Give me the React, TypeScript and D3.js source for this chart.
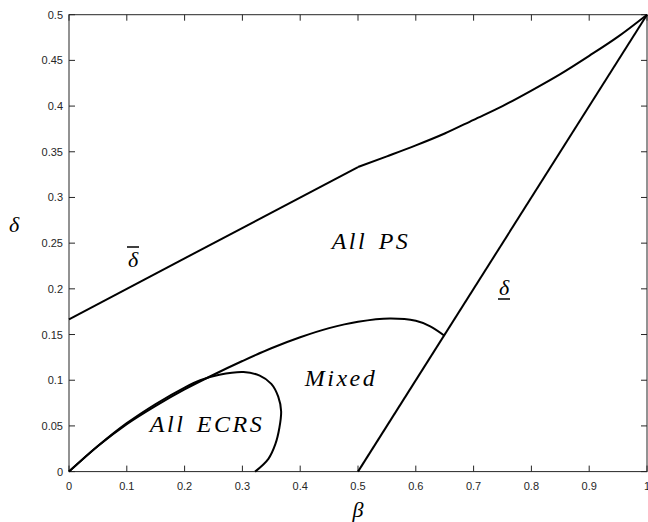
import * as d3 from 'd3';
import { useEffect, useRef } from 'react';

// tick values on both axes
const xTicks = [0, 0.1, 0.2, 0.3, 0.4, 0.5, 0.6, 0.7, 0.8, 0.9, 1];
const yTicks = [0, 0.05, 0.1, 0.15, 0.2, 0.25, 0.3, 0.35, 0.4, 0.45, 0.5];

// upper threshold (delta bar): straight piece then a bent piece
const upperLineBeta = [0, 0.5];
const upperLineDelta = [0.1667, 0.3333];
const upperCurveBeta = [0.5, 0.55, 0.6, 0.65, 0.7, 0.75, 0.8, 0.85, 0.9, 0.95, 1];
const upperCurveDelta = [0.3333, 0.345, 0.357, 0.370, 0.385, 0.400, 0.417, 0.435, 0.455, 0.476, 0.5];

// lower threshold (delta underbar)
const lowerBeta = [0.5, 1];
const lowerDelta = [0, 0.5];

// boundary of the mixed region
const mixedBeta = [0, 0.05, 0.1, 0.15, 0.2, 0.25, 0.3, 0.35, 0.4, 0.45, 0.5, 0.555, 0.6, 0.625, 0.649];
const mixedDelta = [0, 0.028, 0.052, 0.072, 0.090, 0.106, 0.121, 0.135, 0.147, 0.157, 0.164, 0.1676, 0.165, 0.159, 0.149];

// loop around the all-ECRS region
const ecrsBeta = [0, 0.05, 0.1, 0.15, 0.2, 0.227, 0.26, 0.302, 0.33, 0.35, 0.362, 0.367, 0.364, 0.357, 0.345, 0.322];
const ecrsDelta = [0, 0.028, 0.053, 0.074, 0.092, 0.100, 0.106, 0.109, 0.105, 0.096, 0.082, 0.066, 0.048, 0.030, 0.014, 0];

const zip = (xs: number[], ys: number[]) => xs.map((x, i) => [x, ys[i]] as [number, number]);

const App = () => {
    const ref = useRef<SVGSVGElement>(null);
    const width = 648;
    const height = 522;
    const margin = { top: 14.7, right: 1, bottom: 50.4, left: 69 };

    useEffect(() => {
        const svg = d3.select(ref.current);
        svg.selectAll('*').remove();

        const x = d3.scaleLinear().domain([0, 1]).range([margin.left, width - margin.right]);
        const y = d3.scaleLinear().domain([0, 0.5]).range([height - margin.bottom, margin.top]);

        const axisColor = '#262626';
        const tickFont = '"Liberation Sans", Arial, sans-serif';
        const mathFont = '"Liberation Serif", "Times New Roman", serif';

        // box
        svg.append('rect')
            .attr('x', x(0)).attr('y', y(0.5))
            .attr('width', x(1) - x(0)).attr('height', y(0) - y(0.5))
            .attr('fill', 'white').attr('stroke', axisColor).attr('stroke-width', 1);

        // ticks inside on all four sides
        const tl = 6;
        const g = svg.append('g').attr('stroke', axisColor).attr('stroke-width', 1);
        xTicks.forEach(t => {
            g.append('line').attr('x1', x(t)).attr('x2', x(t)).attr('y1', y(0)).attr('y2', y(0) - tl);
            g.append('line').attr('x1', x(t)).attr('x2', x(t)).attr('y1', y(0.5)).attr('y2', y(0.5) + tl);
        });
        yTicks.forEach(t => {
            g.append('line').attr('x1', x(0)).attr('x2', x(0) + tl).attr('y1', y(t)).attr('y2', y(t));
            g.append('line').attr('x1', x(1)).attr('x2', x(1) - tl).attr('y1', y(t)).attr('y2', y(t));
        });

        // tick labels
        svg.append('g').selectAll('text').data(xTicks).enter().append('text')
            .attr('x', d => x(d)).attr('y', y(0) + 18)
            .attr('text-anchor', 'middle')
            .style('font-family', tickFont).style('font-size', '11px').attr('fill', axisColor)
            .text(d => String(d));
        svg.append('g').selectAll('text').data(yTicks).enter().append('text')
            .attr('x', x(0) - 6).attr('y', d => y(d) + 4)
            .attr('text-anchor', 'end')
            .style('font-family', tickFont).style('font-size', '11px').attr('fill', axisColor)
            .text(d => String(d));

        // curves
        const line = d3.line<[number, number]>().x(d => x(d[0])).y(d => y(d[1]));
        const drawPath = (pts: [number, number][], curve: d3.CurveFactory) => {
            svg.append('path')
                .attr('d', line.curve(curve)(pts))
                .attr('fill', 'none').attr('stroke', 'black').attr('stroke-width', 2);
        };
        drawPath(zip(upperLineBeta, upperLineDelta), d3.curveLinear);
        drawPath(zip(upperCurveBeta, upperCurveDelta), d3.curveMonotoneX);
        drawPath(zip(lowerBeta, lowerDelta), d3.curveLinear);
        drawPath(zip(mixedBeta, mixedDelta), d3.curveCatmullRom);
        drawPath(zip(ecrsBeta, ecrsDelta), d3.curveCatmullRom);

        // region labels
        const label = (tx: number, ty: number, txt: string) => {
            svg.append('text').attr('x', tx).attr('y', ty)
                .attr('text-anchor', 'middle')
                .style('font-family', mathFont).style('font-style', 'italic')
                .style('font-size', '24px').style('letter-spacing', '2.5px')
                .style('word-spacing', '3px')
                .attr('fill', 'black').text(txt);
        };
        label(371, 249, 'All PS');
        label(341, 386, 'Mixed');
        label(207, 432, 'All ECRS');

        // delta bar / delta underbar
        const greek = (tx: number, ty: number, txt: string, size: number) =>
            svg.append('text').attr('x', tx).attr('y', ty)
                .attr('text-anchor', 'middle')
                .style('font-family', mathFont).style('font-style', 'italic')
                .style('font-size', `${size}px`).attr('fill', 'black').text(txt);
        greek(133, 267, 'δ', 22);
        svg.append('line').attr('x1', 127).attr('x2', 139).attr('y1', 247).attr('y2', 247)
            .attr('stroke', 'black').attr('stroke-width', 1.5);
        greek(504, 295, 'δ', 22);
        svg.append('line').attr('x1', 498).attr('x2', 510).attr('y1', 299).attr('y2', 299)
            .attr('stroke', 'black').attr('stroke-width', 1.5);

        // axis labels
        greek(358, 517, 'β', 22);
        greek(14, 232, 'δ', 22);
    }, []);

    return (
        <svg ref={ref} width={width} height={height}
            style={{ position: 'absolute', left: 0, top: 0, background: 'white' }} />
    );
};

export default App;
